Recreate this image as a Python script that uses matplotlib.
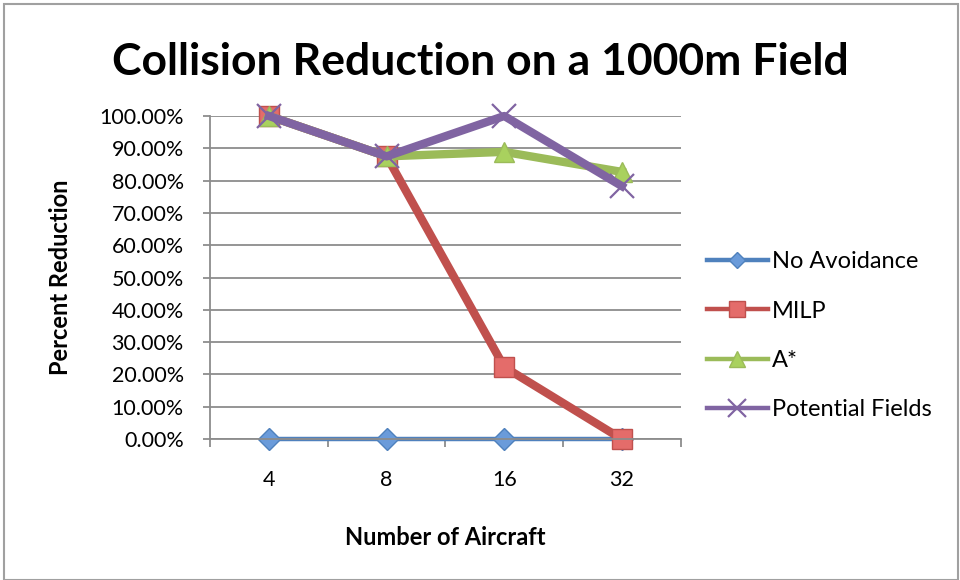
from matplotlib import pyplot as plt
from matplotlib.ticker import FuncFormatter
import numpy as np

# Collision reduction results per planner (fraction of collisions avoided)
aircraft = ['4', '8', '16', '32']
no_avoidance = [0.0, 0.0, 0.0, 0.0]
milp = [1.0, 0.875, 0.223, 0.0]
a_star = [1.0, 0.875, 0.889, 0.827]
potential_fields = [1.0, 0.875, 1.0, 0.783]

plt.rcParams['font.family'] = ['Lato', 'DejaVu Sans']

fig = plt.figure(figsize=(9.6, 5.8), dpi=100)
ax = fig.add_axes([0.219, 0.243, 0.49, 0.557])

x = np.arange(len(aircraft))

#each series: values, label, line colour, marker, marker face, line width, marker size
series = [
    (no_avoidance, 'No Avoidance', '#4F81BD', 'D', '#6A9BDA', 3.2, 11),
    (milp, 'MILP', '#C0504D', 's', '#E46C6A', 6.0, 15),
    (a_star, 'A*', '#9BBB59', '^', '#A9D15E', 6.0, 15),
    (potential_fields, 'Potential Fields', '#8064A2', 'x', '#8064A2', 6.0, 17),
]

for vals, label, col, mk, face, lw, ms in series:
    ax.plot(x, vals, color=col, lw=lw, marker=mk, markersize=ms,
            markerfacecolor=face, markeredgecolor=col,
            markeredgewidth=1.0 if mk != 'x' else 1.6,
            label=label, solid_joinstyle='round', clip_on=False)

ax.set_xlim(-0.5, 3.5)
ax.set_ylim(0, 1.0)
ax.set_yticks(np.arange(0, 1.01, 0.1))
ax.yaxis.set_major_formatter(FuncFormatter(lambda v, p: '{:.2f}%'.format(v * 100)))
ax.set_xticks(x)
ax.set_xticklabels(aircraft)
ax.set_xticks(np.arange(-0.5, 3.6, 1.0), minor=True)

ax.grid(axis='y', color='#8C8C8C', lw=1.3)
ax.set_axisbelow(True)
for s in ['top', 'right']:
    ax.spines[s].set_visible(False)
for s in ['left', 'bottom']:
    ax.spines[s].set_color('#8C8C8C')
    ax.spines[s].set_linewidth(1.3)

ax.tick_params(axis='y', length=5, color='#8C8C8C', width=1.3, labelsize=15.5, pad=14)
ax.tick_params(axis='x', which='major', length=0, labelsize=15.5, pad=22)
ax.tick_params(axis='x', which='minor', length=6, color='#8C8C8C', width=1.3, direction='out')

ax.set_ylabel('Percent Reduction', fontsize=17, fontweight='bold', labelpad=20)
ax.set_xlabel('Number of Aircraft', fontsize=17, fontweight='bold', labelpad=26)
fig.suptitle('Collision Reduction on a 1000m Field', fontsize=32, fontweight='bold', y=0.928)

leg = ax.legend(loc='center left', bbox_to_anchor=(1.01, 0.32), frameon=False, fontsize=17,
                handlelength=2.6, labelspacing=1.2, handletextpad=0.15, markerscale=0.75)
for ln in leg.get_lines():
    ln.set_linewidth(3.2)

# light frame around the chart
fig.patches.append(plt.Rectangle((0.004, 0.0), 0.994, 0.993, transform=fig.transFigure,
                                 fill=False, edgecolor='#A0A0A0', lw=1.5))

plt.savefig('out.png', dpi=100)
